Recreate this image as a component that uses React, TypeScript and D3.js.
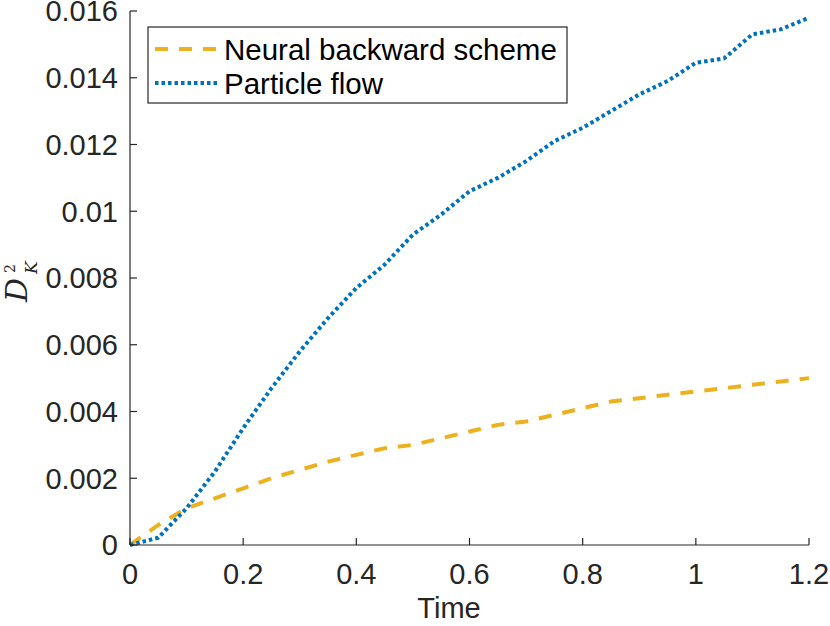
import React from "react";
import * as d3 from "d3";

const times = [0, 0.05, 0.1, 0.15, 0.2, 0.25, 0.3, 0.35, 0.4, 0.45, 0.5, 0.55, 0.6, 0.65, 0.7, 0.75, 0.8, 0.85, 0.9, 0.95, 1.0, 1.05, 1.1, 1.15, 1.2];
const neural = [0, 0.0006, 0.0011, 0.0014, 0.0017, 0.002, 0.00225, 0.0025, 0.0027, 0.0029, 0.003, 0.0032, 0.0034, 0.0036, 0.0037, 0.0039, 0.0041, 0.0043, 0.0044, 0.0045, 0.0046, 0.0047, 0.0048, 0.0049, 0.005];
const particle = [0, 0.00022, 0.0011, 0.0022, 0.0035, 0.0047, 0.0058, 0.0068, 0.0077, 0.0084, 0.0093, 0.0099, 0.0106, 0.011, 0.0115, 0.0121, 0.0125, 0.013, 0.0135, 0.0139, 0.01445, 0.01458, 0.0153, 0.01545, 0.0158];
const xTicks = [0, 0.2, 0.4, 0.6, 0.8, 1, 1.2];
const yTicks = [0, 0.002, 0.004, 0.006, 0.008, 0.01, 0.012, 0.014, 0.016];
const seriesNames = ["Neural backward scheme", "Particle flow"];

const W = 830, H = 626;
const FONT = "'Liberation Sans', Arial, Helvetica, sans-serif";
const AX = "#262626";

export default function App() {
  const x = d3.scaleLinear().domain([0, 1.2]).range([130, 809]);
  const y = d3.scaleLinear().domain([0, 0.016]).range([545, 11]);
  const line = d3.line<number>().x((_, i) => x(times[i])).y((d) => y(d));
  return (
    <svg width={W} height={H} style={{ position: "absolute", left: 0, top: 0, background: "#fff" }}>
      <rect width={W} height={H} fill="#fff" />
      <path d={line(neural) || ""} fill="none" stroke="#EDB120" strokeWidth={4} strokeDasharray="13,11" />
      <path d={line(particle) || ""} fill="none" stroke="#0072BD" strokeWidth={4} strokeDasharray="3.5,3" />
      {/* axes */}
      <line x1={130} x2={130} y1={11} y2={545} stroke={AX} strokeWidth={1.2} />
      <line x1={130} x2={809} y1={545} y2={545} stroke={AX} strokeWidth={1.2} />
      {yTicks.map((t) => (
        <g key={"y" + t}>
          <line x1={130} x2={137} y1={y(t)} y2={y(t)} stroke={AX} strokeWidth={1.2} />
          <text x={118} y={y(t)} dy="0.36em" textAnchor="end" fontFamily={FONT} fontSize={29} fill={AX}>
            {t === 0 ? "0" : String(t)}
          </text>
        </g>
      ))}
      {xTicks.map((t) => (
        <g key={"x" + t}>
          <line x1={x(t)} x2={x(t)} y1={545} y2={538} stroke={AX} strokeWidth={1.2} />
          <text x={x(t)} y={584} textAnchor="middle" fontFamily={FONT} fontSize={29} fill={AX}>
            {String(t)}
          </text>
        </g>
      ))}
      <text x={449} y={618} textAnchor="middle" fontFamily={FONT} fontSize={29} fill={AX}>Time</text>
      <g transform="translate(0,285) rotate(-90)" fill={AX}>
        <text x={-17} y={27} fontFamily="'DejaVu Serif', serif" fontStyle="italic" fontSize={30}>D</text>
        <text x={12} y={15} fontFamily="'DejaVu Serif', serif" fontSize={14}>2</text>
        <text x={11} y={37} fontFamily="'DejaVu Serif', serif" fontStyle="italic" fontSize={17}>K</text>
      </g>
      {/* legend */}
      <rect x={148} y={27} width={419} height={76} fill="#fff" stroke={AX} strokeWidth={1.2} />
      <line x1={155} x2={218} y1={49} y2={49} stroke="#EDB120" strokeWidth={4} strokeDasharray="13,11" />
      <line x1={155} x2={218} y1={83} y2={83} stroke="#0072BD" strokeWidth={4} strokeDasharray="3.5,3" />
      <text x={224} y={49} dy="0.36em" fontFamily={FONT} fontSize={29.5} fill="#000">{seriesNames[0]}</text>
      <text x={224} y={83} dy="0.36em" fontFamily={FONT} fontSize={29.5} fill="#000">{seriesNames[1]}</text>
    </svg>
  );
}
